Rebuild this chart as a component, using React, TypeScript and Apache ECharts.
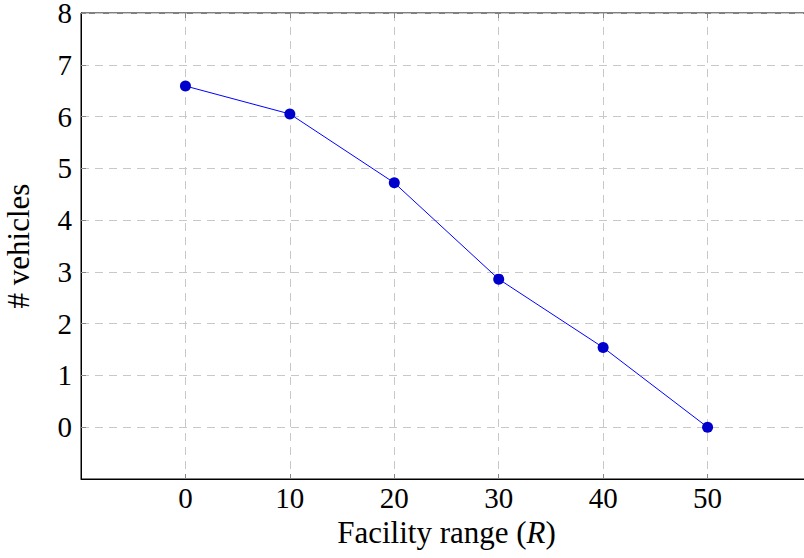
import React, { useEffect, useRef } from "react";
import * as echarts from "echarts";

const facilityRange = [0, 10, 20, 30, 40, 50];
const vehicles = [6.59, 6.05, 4.72, 2.86, 1.54, 0.0];
const xTicks = [0, 10, 20, 30, 40, 50];
const yTicks = [0, 1, 2, 3, 4, 5, 6, 7, 8];

const FONT = "Liberation Serif";
const TICK_FS = 29;
const NAME_FS = 31;

export default function App() {
  const ref = useRef<HTMLDivElement>(null);
  useEffect(() => {
    if (!ref.current) return;
    const chart = echarts.init(ref.current, null, { renderer: "svg" });
    const tickStyle = { show: true, inside: true, length: 5, lineStyle: { color: "#888", width: 1 } };
    const gridLine = { show: true, lineStyle: { color: "#c8c8c8", type: [8, 6] as any, width: 1 } };
    chart.setOption({
      animation: false,
      backgroundColor: "#fff",
      grid: {
        left: 81,
        top: 13,
        width: 731,
        height: 466,
        show: true,
        borderColor: "#000",
        borderWidth: 1,
        containLabel: false,
        outerBoundsMode: "none",
      },
      xAxis: [
        {
          type: "value",
          min: -10,
          max: 60,
          interval: 10,
          axisLine: { show: true, onZero: false, lineStyle: { color: "#000", width: 1 } },
          axisTick: { ...tickStyle, customValues: xTicks },
          axisLabel: {
            customValues: xTicks,
            color: "#000",
            fontFamily: FONT,
            fontSize: TICK_FS,
            margin: 4,
          },
          splitLine: gridLine,
          name: "Facility range ({i|R})",
          nameLocation: "middle",
          nameGap: 27,
          nameTextStyle: {
            color: "#000",
            fontFamily: FONT,
            fontSize: NAME_FS,
            rich: { i: { fontStyle: "italic", fontFamily: FONT, fontSize: NAME_FS, color: "#000" } },
          },
        },
        {
          type: "value",
          position: "top",
          min: -10,
          max: 60,
          interval: 10,
          axisLine: { show: false, onZero: false },
          axisTick: { ...tickStyle, customValues: xTicks },
          axisLabel: { show: false },
          splitLine: { show: false },
        },
      ],
      yAxis: [
        {
          type: "value",
          min: -1,
          max: 8,
          interval: 1,
          axisLine: { show: true, onZero: false, lineStyle: { color: "#000", width: 1 } },
          axisTick: { ...tickStyle, customValues: yTicks },
          axisLabel: {
            customValues: yTicks,
            color: "#000",
            fontFamily: FONT,
            fontSize: TICK_FS,
            lineHeight: 22,
            margin: 9,
          },
          splitLine: gridLine,
          name: "# vehicles",
          nameLocation: "middle",
          nameGap: 47,
          nameTextStyle: { color: "#000", fontFamily: FONT, fontSize: NAME_FS },
        },
      ],
      series: [
        {
          type: "line",
          data: facilityRange.map((x, i) => [x, vehicles[i]]),
          lineStyle: { color: "#0000ff", width: 1 },
          itemStyle: { color: "#0000cc" },
          symbol: "circle",
          symbolSize: 11,
          showSymbol: true,
        },
      ],
    });
    return () => chart.dispose();
  }, []);
  return (
    <div
      ref={ref}
      style={{ position: "absolute", left: 0, top: 0, width: 804, height: 558 }}
    />
  );
}
